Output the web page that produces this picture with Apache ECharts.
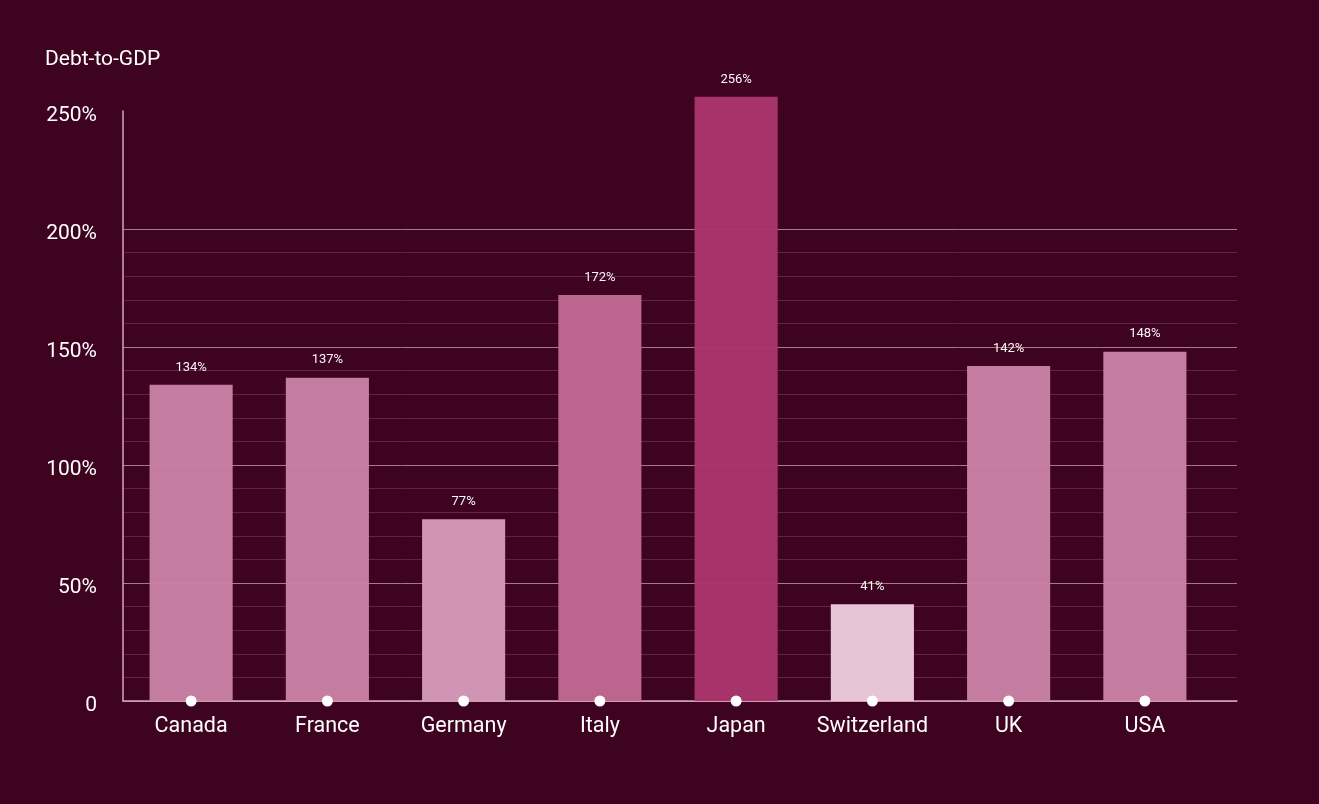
<!DOCTYPE html>
<html>
<head>
<meta charset="utf-8">
<script src="https://cdn.jsdelivr.net/npm/echarts@6/dist/echarts.min.js"></script>
<style>
  html, body { margin: 0; padding: 0; background: #3d0320; }
  #chart { width: 1319px; height: 804px; }
</style>
</head>
<body>
<div id="chart"></div>
<script>
var countries = ['Canada', 'France', 'Germany', 'Italy', 'Japan', 'Switzerland', 'UK', 'USA'];
var debtToGdp = [134, 137, 77, 172, 256, 41, 142, 148];
var barColors = ['#c980a5', '#c980a5', '#d49ab8', '#c06892', '#a9366d', '#eacbdc', '#c980a5', '#c980a5'];
var baseDots = [0, 0, 0, 0, 0, 0, 0, 0];

// one colour per split line (0, 10, 20 ... 250); none drawn above 200
var gridColors = [];
for (var v = 0; v <= 250; v += 10) {
  if (v > 200) gridColors.push('rgba(0,0,0,0)');
  else if (v % 50 === 0) gridColors.push('#a97a82');
  else gridColors.push('#652244');
}

var chart = echarts.init(document.getElementById('chart'));

chart.setOption({
  backgroundColor: '#3d0320',
  animation: false,
  textStyle: { fontFamily: 'Roboto' },
  title: {
    text: 'Debt-to-GDP',
    left: 40,
    top: 44,
    textStyle: { color: '#ffffff', fontSize: 21, fontWeight: 'normal', fontFamily: 'Roboto' }
  },
  // grid 0 carries the axis lines and grid lines, grid 1 the bars
  grid: [
    { left: 123, right: 82, top: 111, bottom: 103 },
    { left: 123, right: 106, top: 111, bottom: 103 }
  ],
  xAxis: [
    {
      gridIndex: 0,
      type: 'value',
      min: 0,
      max: 1,
      axisLine: { show: true, onZero: false, lineStyle: { color: '#d9a5bf', width: 1.5 } },
      axisTick: { show: false },
      axisLabel: { show: false },
      splitLine: { show: false }
    },
    {
      gridIndex: 1,
      type: 'category',
      data: countries,
      axisLine: { show: false },
      axisTick: { show: false },
      axisLabel: { interval: 0, color: '#ffffff', fontSize: 21.5, margin: 15, fontFamily: 'Roboto' },
      splitLine: { show: false }
    }
  ],
  yAxis: [
    {
      gridIndex: 0,
      type: 'value',
      min: 0,
      max: 250,
      interval: 10,
      axisLine: { show: true, lineStyle: { color: '#d9a5bf', width: 1.5 } },
      axisTick: { show: false },
      axisLabel: {
        color: '#ffffff',
        fontSize: 21,
        margin: 26,
        verticalAlign: 'top',
        padding: [-6, 0, 0, 0],
        fontFamily: 'Roboto',
        formatter: function (val) {
          if (val % 50 !== 0) return '';
          return val === 0 ? '0' : val + '%';
        }
      },
      splitLine: { show: true, lineStyle: { color: gridColors, width: 1 } }
    },
    {
      gridIndex: 1,
      type: 'value',
      min: 0,
      max: 250,
      show: false
    }
  ],
  series: [
    {
      type: 'bar',
      xAxisIndex: 1,
      yAxisIndex: 1,
      clip: false,
      data: debtToGdp.map(function (d, i) {
        return { value: d, itemStyle: { color: barColors[i] } };
      }),
      barWidth: '61%',
      itemStyle: { opacity: 0.97 },
      label: {
        show: true,
        position: 'top',
        distance: 11,
        color: '#ffffff',
        fontSize: 13,
        fontFamily: 'Roboto',
        formatter: '{c}%'
      }
    },
    {
      type: 'scatter',
      xAxisIndex: 1,
      yAxisIndex: 1,
      clip: false,
      data: baseDots,
      symbol: 'circle',
      symbolSize: 11,
      itemStyle: { color: '#ffffff', opacity: 1 },
      z: 5
    }
  ]
});
</script>
</body>
</html>
